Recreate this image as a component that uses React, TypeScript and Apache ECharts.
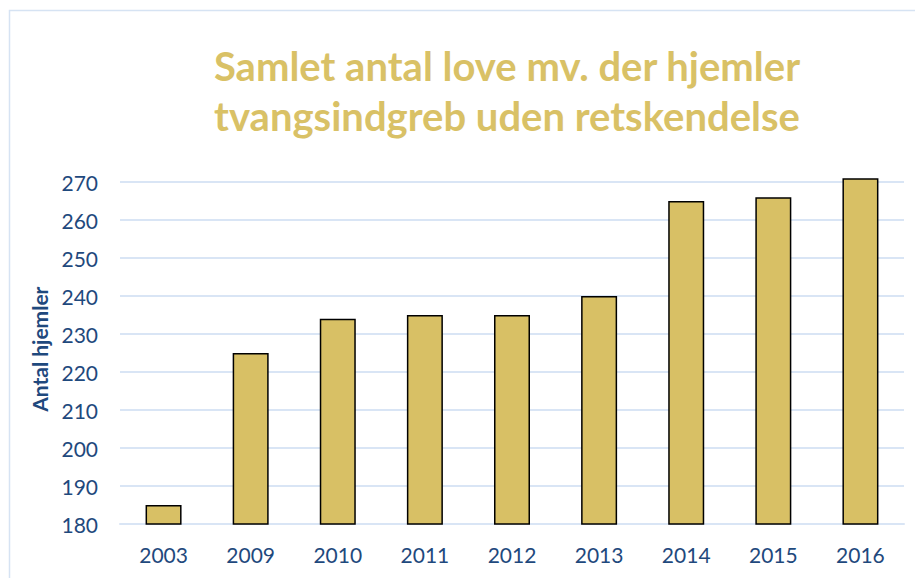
import React, { useEffect, useRef } from "react";
import * as echarts from "echarts";

const years = ["2003", "2009", "2010", "2011", "2012", "2013", "2014", "2015", "2016"];
const counts = [185, 225, 234, 235, 235, 240, 265, 266, 271];
const titleLines = ["Samlet antal love mv. der hjemler", "tvangsindgreb uden retskendelse"];
const yAxisName = "Antal hjemler";

const GOLD = "#D9C166";
const BLUE = "#1F497D";
const GRID = "#D9E5F5";
const FONT = "Lato, 'Open Sans', sans-serif";

export default function App() {
  const ref = useRef<HTMLDivElement>(null);
  useEffect(() => {
    const chart = echarts.init(ref.current!, undefined, { renderer: "svg" });
    chart.setOption({
      animation: false,
      backgroundColor: "#ffffff",
      title: {
        text: titleLines.join("\n"),
        left: 502,
        top: 36,
        textAlign: "center",
        textStyle: {
          color: GOLD,
          fontSize: 40,
          fontWeight: "bold",
          fontFamily: FONT,
          lineHeight: 50,
        },
      },
      graphic: [
        {
          type: "rect",
          shape: { x: 9.5, y: 10.5, width: 1000, height: 1000 },
          style: { fill: "none", stroke: "#D6E3F3", lineWidth: 1.5 },
          silent: true,
        },
      ],
      grid: { left: 120, right: 11, top: 174.4, bottom: 54 },
      xAxis: {
        type: "category",
        data: years,
        axisLine: { show: true, lineStyle: { color: GRID, width: 2 } },
        axisTick: { show: false },
        axisLabel: { color: BLUE, fontSize: 21, fontFamily: FONT, margin: 20 },
      },
      yAxis: {
        type: "value",
        min: 180,
        max: 272,
        interval: 10,
        name: yAxisName,
        nameLocation: "middle",
        nameGap: 70,
        nameTextStyle: { color: BLUE, fontSize: 21, fontWeight: "bold", fontFamily: FONT },
        axisLine: { show: false },
        axisTick: { show: false },
        axisLabel: {
          color: BLUE,
          fontSize: 21,
          fontFamily: FONT,
          margin: 22,
          showMaxLabel: false,
          formatter: (v: number) => (v % 10 === 0 ? String(v) : ""),
        },
        splitLine: { showMaxLine: false, lineStyle: { color: GRID, width: 2 } },
      },
      series: [
        {
          type: "bar",
          data: counts,
          barWidth: 36,
          itemStyle: { color: "#D8C065", borderColor: "#000000", borderWidth: 1.5 },
        },
      ],
    });
    return () => chart.dispose();
  }, []);
  return (
    <div
      ref={ref}
      style={{ position: "fixed", left: 0, top: 0, width: 915, height: 578, background: "#fff" }}
    />
  );
}
